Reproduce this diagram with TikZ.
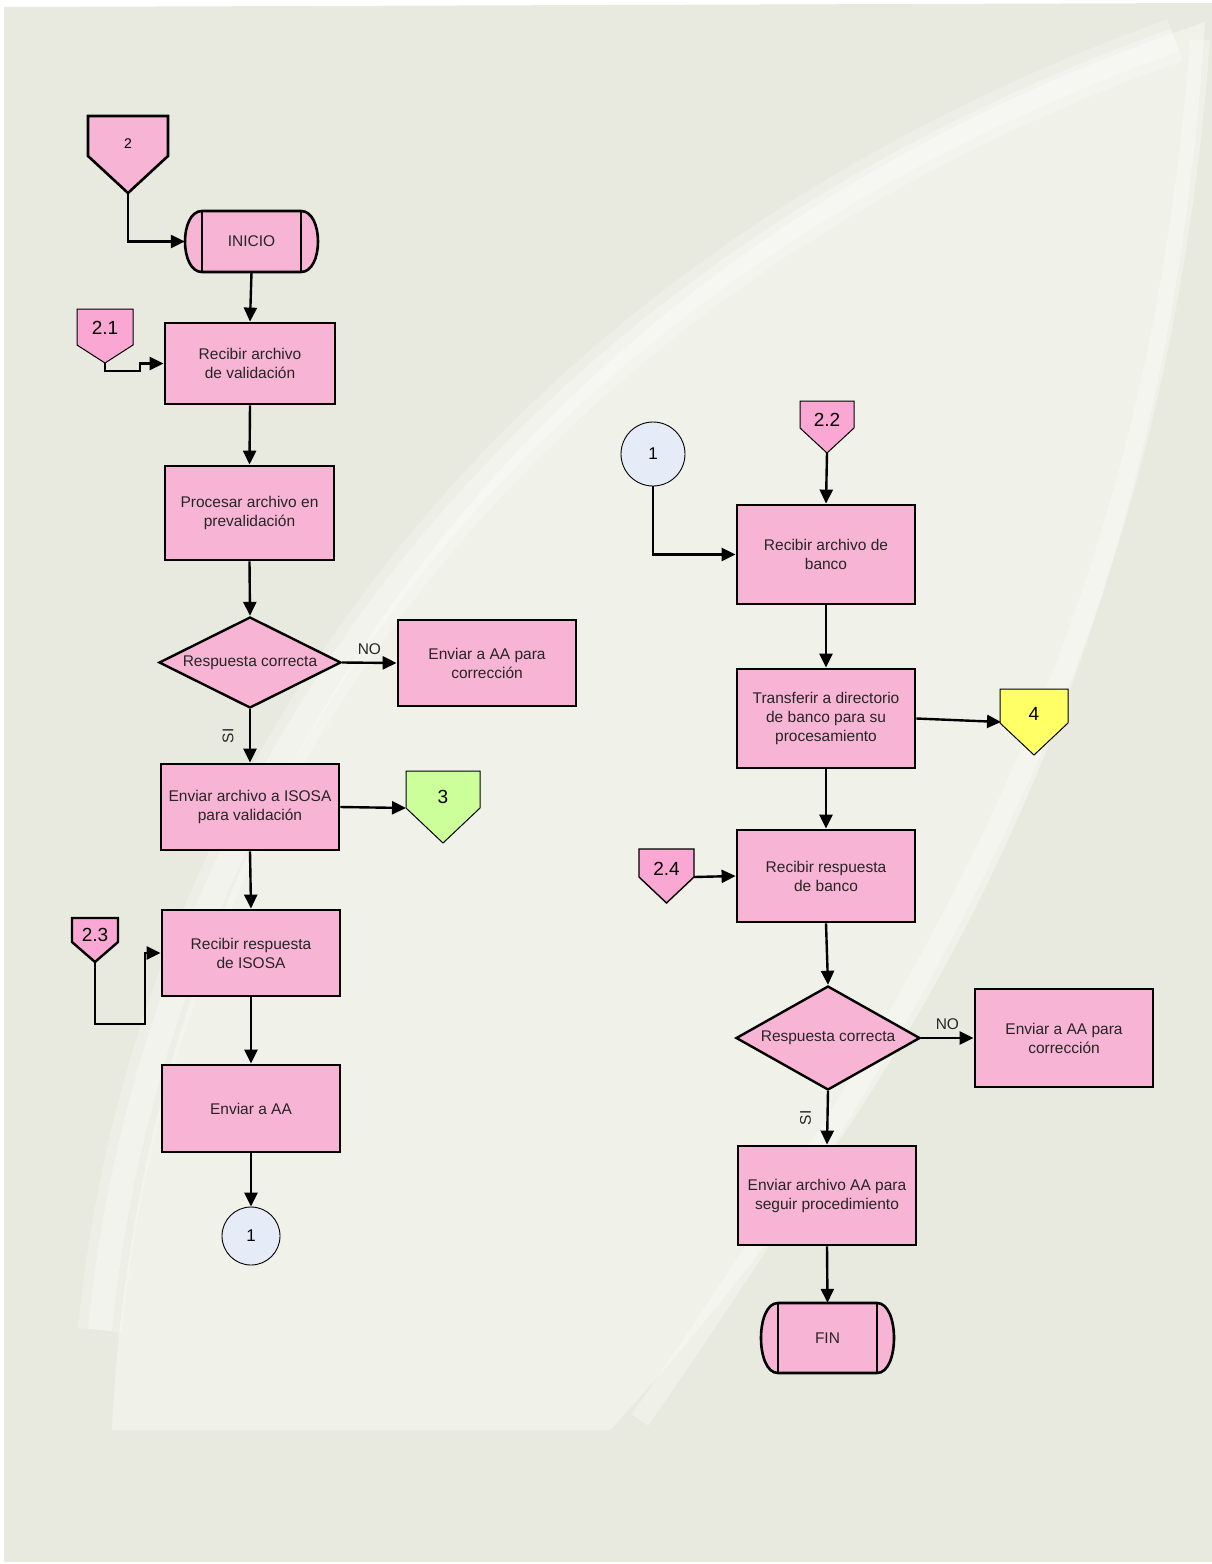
\documentclass[tikz,border=0pt]{standalone}
\usepackage{fontspec}
\setmainfont{Liberation Sans}
\usetikzlibrary{arrows.meta,shapes.geometric}

\definecolor{pagebg}{RGB}{233,234,223}
\definecolor{swooshbg}{RGB}{240,241,233}
\definecolor{boxpink}{RGB}{247,180,212}
\definecolor{refpink}{RGB}{250,168,211}
\definecolor{circblue}{RGB}{230,236,247}
\definecolor{offgreen}{RGB}{204,255,153}
\definecolor{offyellow}{RGB}{255,255,102}

\tikzset{
  txt/.style={font=\fontsize{15.5}{19}\selectfont, align=center, text=black!85},
  procbox/.style={txt, draw, line width=2.8pt, fill=boxpink, inner sep=0pt},
  decision/.style={txt, diamond, draw, line width=2.4pt, fill=boxpink, inner sep=0pt},
  conncirc/.style={circle, draw, line width=0.9pt, fill=circblue, inner sep=0pt,
    font=\fontsize{17}{20}\selectfont},
  flow/.style={line width=2.4pt, -{Triangle[length=14pt,width=13pt]}},
  lbl/.style={font=\fontsize{15.5}{18}\selectfont, text=black!85},
  offpg/.style={line width=1pt, fill=refpink},
}

% off-page reference: name, centre x, top y, half width, shoulder y, tip y, label y, text
\newcommand{\offpage}[9][]{%
  \filldraw[offpg,#1] ({#3-#5},#4) -- ({#3+#5},#4) -- ({#3+#5},#6) -- (#3,#7)
    -- ({#3-#5},#6) -- cycle;
  \node[inner sep=0pt] (#2) at (#3,#8) {#9};
  \coordinate (#2-tip) at (#3,#7);
}

% terminator: name, centre x, centre y, inner half width, half height, cap depth, text
\newcommand{\terminal}[7]{%
  \filldraw[line width=2.6pt, fill=boxpink]
    ({#2-#4},{#3-#5}) -- ({#2+#4},{#3-#5})
    .. controls ({#2+#4+#6*4/3},{#3-#5}) and ({#2+#4+#6*4/3},{#3+#5}) .. ({#2+#4},{#3+#5})
    -- ({#2-#4},{#3+#5})
    .. controls ({#2-#4-#6*4/3},{#3+#5}) and ({#2-#4-#6*4/3},{#3-#5}) .. ({#2-#4},{#3-#5})
    -- cycle;
  \draw[line width=2.6pt] ({#2-#4},{#3-#5}) -- ({#2-#4},{#3+#5})
    ({#2+#4},{#3-#5}) -- ({#2+#4},{#3+#5});
  \node[txt, minimum width={2*(#4+#6)}, minimum height={2*#5}, inner sep=0pt] (#1) at (#2,#3) {#7};
}

\begin{document}
\begin{tikzpicture}[x=1pt, y=-1pt]
\useasboundingbox (0,0) rectangle (1212,1564);

% page and decorative swoosh
\fill[white] (0,0) rectangle (1212,1564);
\fill[pagebg] (4,7) -- (1212,3) -- (1212,1562) -- (4,1562) -- cycle;
\fill[swooshbg] (112,1430) .. controls (140,820) and (500,260) .. (1205,22)
  .. controls (1170,600) and (960,1050) .. (610,1430) -- cycle;
\draw[white, opacity=0.22, line width=44pt]
  (100,1330) .. controls (150,820) and (480,290) .. (1175,40);
\draw[white, opacity=0.3, line width=24pt]
  (100,1330) .. controls (150,820) and (480,290) .. (1175,40);
\draw[white, opacity=0.3, line width=20pt]
  (1200,40) .. controls (1160,560) and (1000,900) .. (640,1420);

% ---------------- left column ----------------
\offpage[line width=2.6pt, fill=boxpink]{c2}{128}{116}{40}{156}{193}{144}%
  {\fontsize{14}{16}\selectfont 2}
\terminal{inicio}{251.5}{241.5}{49.5}{30.5}{17}{INICIO}

\node[procbox, minimum width=170pt, minimum height=81pt] (b1) at (250,363.5)
  {Recibir archivo\\de validación};
\offpage{c21}{105}{309}{28}{345}{363}{328}{\fontsize{19}{22}\selectfont 2.1}
\coordinate (j21) at (140,371);

\node[procbox, minimum width=169pt, minimum height=94pt] (b2) at (249.5,513)
  {Procesar archivo en\\prevalidación};

\node[decision, minimum width=182pt, minimum height=91pt] (d1) at (250,662.5)
  {\makebox[0pt]{Respuesta correcta}};
\node[procbox, minimum width=178pt, minimum height=86pt] (no1) at (487,663)
  {Enviar a AA para\\corrección};

\node[procbox, minimum width=178pt, minimum height=86pt] (b3) at (250,807)
  {Enviar archivo a ISOSA\\para validación};
\offpage[fill=offgreen]{c3}{443}{771}{37}{808}{843}{797}{\fontsize{19}{22}\selectfont 3}
\coordinate (c3-in) at (406,808);

\node[procbox, minimum width=178pt, minimum height=86pt] (b4) at (251,953)
  {Recibir respuesta\\de ISOSA};
\offpage[line width=2.4pt]{c23}{95}{918}{23}{942}{962}{935}{\fontsize{19}{22}\selectfont 2.3}
\coordinate (j23) at (145,1024);

\node[procbox, minimum width=178pt, minimum height=87pt] (b5) at (251,1108.5)
  {Enviar a AA};
\node[conncirc, minimum size=58pt] (k1a) at (251,1236) {1};

% left connectors
\draw[flow] (c2-tip) |- (inicio.west);
\draw[flow] (inicio.south) -- (b1.north);
\draw[flow] (c21-tip) |- (j21) |- (b1.west);
\draw[flow] (b1.south) -- (b2.north);
\draw[flow] (b2.south) -- (d1.north);
\draw[flow] (d1.east) -- node[lbl, above=4pt] {NO} (no1.west);
\draw[flow] (d1.south) -- node[lbl, left=12pt, rotate=90, anchor=south] {SI} (b3.north);
\draw[flow] (b3.east) -- (c3-in);
\draw[flow] (b3.south) -- (b4.north);
\draw[flow] (c23-tip) |- (j23) |- (b4.west);
\draw[flow] (b4.south) -- (b5.north);
\draw[flow] (b5.south) -- (k1a.north);

% ---------------- right column ----------------
\node[conncirc, minimum size=64pt] (k1b) at (653,454) {1};
\offpage{c22}{827}{401}{27}{428}{453}{420}{\fontsize{19}{22}\selectfont 2.2}

\node[procbox, minimum width=178pt, minimum height=99pt] (rb1) at (826,554.5)
  {Recibir archivo de\\banco};
\node[procbox, minimum width=178pt, minimum height=99pt] (rb2) at (826,718.5)
  {Transferir a directorio\\de banco para su\\procesamiento};
\offpage[fill=offyellow]{c4}{1034}{689}{34}{723}{755}{714}{\fontsize{19}{22}\selectfont 4}
\coordinate (c4-in) at (1001,722);

\node[procbox, minimum width=178pt, minimum height=92pt] (rb3) at (826,876)
  {Recibir respuesta\\de banco};
\offpage[line width=1.4pt]{c24}{666.5}{849}{27.5}{877}{903}{869}{\fontsize{19}{22}\selectfont 2.4}
\coordinate (c24-out) at (694,877);

\node[decision, minimum width=184pt, minimum height=104pt] (d2) at (828,1038)
  {\makebox[0pt]{Respuesta correcta}};
\node[procbox, minimum width=178pt, minimum height=98pt] (no2) at (1064,1038)
  {Enviar a AA para\\corrección};

\node[procbox, minimum width=178pt, minimum height=99pt] (rb5) at (827,1195.5)
  {Enviar archivo AA para\\seguir procedimiento};
\terminal{fin}{827.5}{1338}{49.5}{35}{17}{FIN}

% right connectors
\draw[flow] (k1b.south) |- (rb1.west);
\draw[flow] (c22-tip) -- (rb1.north);
\draw[flow] (rb1.south) -- (rb2.north);
\draw[flow] (rb2.east) -- (c4-in);
\draw[flow] (rb2.south) -- (rb3.north);
\draw[flow] (c24-out) -- (rb3.west);
\draw[flow] (rb3.south) -- (d2.north);
\draw[flow] (d2.east) -- node[lbl, above=4pt] {NO} (no2.west);
\draw[flow] (d2.south) -- node[lbl, left=12pt, rotate=90, anchor=south] {SI} (rb5.north);
\draw[flow] (rb5.south) -- (fin.north);

\end{tikzpicture}
\end{document}
